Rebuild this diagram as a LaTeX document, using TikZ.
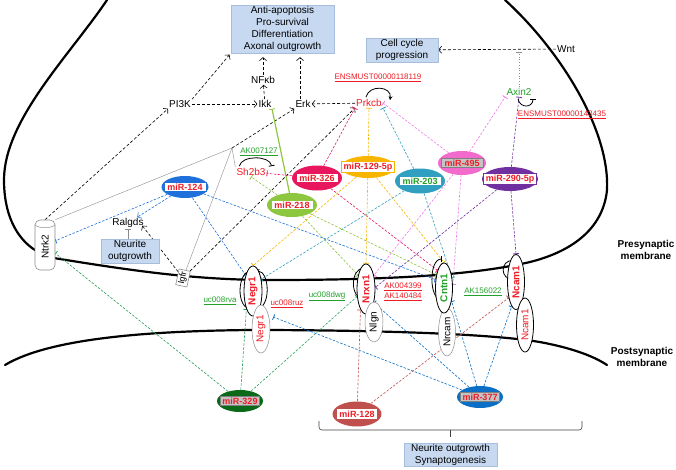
\documentclass[tikz,border=0pt]{standalone}
\usepackage{fontspec}
\setmainfont{Liberation Sans}
\usetikzlibrary{shapes.geometric,arrows.meta,calc}
\pgfdeclarelayer{bg}\pgfdeclarelayer{mid}\pgfsetlayers{bg,mid,main}
\definecolor{boxfill}{HTML}{C6D9F1}
\definecolor{boxedge}{HTML}{A6BEDC}
\definecolor{tred}{HTML}{EE1C25}
\definecolor{tgreen}{HTML}{22A02A}
\definecolor{c124}{HTML}{1F70DA}
\definecolor{c326}{HTML}{E8175D}
\definecolor{c218}{HTML}{8DC63F}
\definecolor{c129}{HTML}{F7B500}
\definecolor{c203}{HTML}{31A0C0}
\definecolor{c495}{HTML}{F26ACB}
\definecolor{l495}{HTML}{F07AE6}
\definecolor{c290}{HTML}{7030A0}
\definecolor{c329}{HTML}{0A6A1A}
\definecolor{l329}{HTML}{2AA05A}
\definecolor{c128}{HTML}{C0504D}
\definecolor{c377}{HTML}{0B6FC6}
\definecolor{labgray}{HTML}{C4C4C4}
\definecolor{pgray}{HTML}{8C8C8C}
\begin{document}
\begin{tikzpicture}[x=1pt,y=-1pt,
  lbl/.style={inner sep=1pt,font=\fontsize{10}{12}\selectfont},
  ultxt/.style={inner sep=0.5pt,font=\fontsize{8}{9.5}\selectfont},
  pbox/.style={draw=boxedge,fill=boxfill,align=center,inner sep=1pt,font=\fontsize{10}{12}\selectfont},
  mell/.style={ellipse,inner sep=0pt},
  mlab/.style={draw,fill=white,line width=0.8pt,inner xsep=3.5pt,inner ysep=1pt,text=tred,font=\bfseries\fontsize{9}{10}\selectfont},
  glab/.style={mlab,fill=labgray,draw=gray},
  prot/.style={ellipse,draw,line width=0.8pt,fill=white,inner sep=0pt,minimum width=18pt,minimum height=50pt},
  ptxt/.style={rotate=90,inner sep=0pt,font=\bfseries\fontsize{10}{12}\selectfont},
  ptxtn/.style={rotate=90,inner sep=0pt,font=\fontsize{10}{12}\selectfont},
  memb/.style={line width=2.2pt,line cap=round},
  bdash/.style={dash pattern=on 3pt off 2pt,line width=0.6pt},
  cdash/.style={dash pattern=on 2.5pt off 1.5pt,line width=0.6pt},
  arr/.style={-{Straight Barb[length=3pt,width=7pt]}},
  inh/.style={-{Bar[width=6pt,line width=0.8pt]}},
  loopl/.style={line width=0.8pt},
]
\useasboundingbox (0,0) rectangle (676,469);
% membranes
\begin{pgfonlayer}{bg}
\draw[memb] (107,0) .. controls (70,55) and (4,120) .. (4,180) .. controls (4,228) and (28,255) .. (60,259) .. controls (140,272) and (200,280) .. (270,280) .. controls (380,280) and (470,276) .. (530,262) .. controls (570,252) and (603,230) .. (607,190) .. controls (610,130) and (560,50) .. (505,0);
\draw[memb] (5,365) .. controls (50,338) and (150,331) .. (250,330) .. controls (380,330) and (500,334) .. (545,343) .. controls (575,349) and (595,357) .. (607,365);
\end{pgfonlayer}
% boxes
\node[pbox,minimum width=103pt,minimum height=48pt] (tb) at (282.5,29) {Anti-apoptosis\\Pro-survival\\Differentiation\\Axonal outgrowth};
\node[pbox,minimum width=72pt,minimum height=24pt] (cc) at (402,50) {Cell cycle\\progression};
\node[pbox,minimum width=58pt,minimum height=24pt] (no) at (130,251) {Neurite\\outgrowth};
\node[pbox,minimum width=93pt,minimum height=23pt] (ns) at (450.5,454.5) {Neurite outgrowth\\Synaptogenesis};
% plain labels
\node[lbl] (nfkb) at (263,80) {NFκb};
\node[lbl] (pi3k) at (180,104) {PI3K};
\node[lbl] (ikk) at (265,104) {Ikk};
\node[lbl] (erk) at (303,104) {Erk};
\node[lbl,text=tred] (prkcb) at (369,103) {Prkcb};
\node[lbl] (wnt) at (566,49) {Wnt};
\node[lbl,text=tgreen] (axin2) at (519,92) {Axin2};
\node[lbl,text=tred] (sh2b3) at (251,172) {Sh2b3};
\node[lbl] (ralgds) at (128,223) {Ralgds};
\node[ultxt,text=tred] (ens1) at (378,78) {\underline{ENSMUST00000118119}};
\node[ultxt,text=tred] (ens2) at (562,115) {\underline{ENSMUST00000143435}};
\node[ultxt,text=tgreen] (ak7) at (259,152) {\underline{AK007127}};
\node[ultxt,text=tgreen] (rva) at (220,301) {\underline{uc008rva}};
\node[ultxt,text=tred] (ruz) at (287,304) {\underline{uc008ruz}};
\node[ultxt,text=tgreen] (dwg) at (327,296) {\underline{uc008dwg}};
\node[ultxt,text=tred] (ak43) at (403,287) {\underline{AK004399}};
\node[ultxt,text=tred] (ak14) at (403,297) {\underline{AK140484}};
\node[ultxt,text=tgreen] (ak15) at (483,292) {\underline{AK156022}};
\node[font=\bfseries\fontsize{10}{12}\selectfont,align=center] (pre) at (646,250) {Presynaptic\\membrane};
\node[font=\bfseries\fontsize{10}{12}\selectfont,align=center] (post) at (642,357) {Postsynaptic\\membrane};
% receptors
\node[draw=pgray,fill=white,rounded corners=5pt,minimum width=20pt,minimum height=50pt,line width=0.6pt] (ntrk2) at (45,245) {};
\node[ptxtn] (ntrk2t) at (45,247) {Ntrk2};
\draw[pgray,line width=0.5pt] ($(ntrk2.north west)+(0,5)$) .. controls +(4,4) and +(-4,4) .. ($(ntrk2.north east)+(0,5)$);
\node[draw=pgray,fill=white,rotate=78,inner sep=1.5pt,line width=0.6pt,font=\fontsize{9}{10}\selectfont] (igfr) at (183,278) {Igfr};
% proteins
\node[prot] (negr1a) at (253,291) {};
\node[ptxt,text=tred] (negr1at) at (negr1a) {Negr1};
\node[prot,draw=pgray,line width=0.5pt,minimum height=48pt] (negr1b) at (261,329) {};
\node[ptxtn,text=tred] (negr1bt) at (negr1b) {Negr1};
\node[prot] (nrxn1) at (366,289) {};
\node[ptxt,text=tred] (nrxn1t) at (nrxn1) {Nrxn1};
\node[prot,draw=pgray,line width=0.5pt,minimum height=40pt] (nlgn) at (374,322) {};
\node[ptxtn] (nlgnt) at (nlgn) {Nlgn};
\node[prot,draw=pgray,line width=0.5pt,minimum height=48pt,minimum width=17pt] (nrcam) at (447,332) {};
\node[ptxtn] (nrcamt) at (nrcam) {Nrcam};
\node[prot,minimum width=17pt] (cntn1) at (444,288) {};
\node[ptxt,text=tgreen] (cntn1t) at (cntn1) {Cntn1};
\node[prot,minimum width=17pt,minimum height=55pt] (ncam1a) at (516,282) {};
\node[ptxt,text=tred] (ncam1at) at (ncam1a) {Ncam1};
\node[prot,minimum width=17pt,minimum height=54pt] (ncam1b) at (525,325) {};
\node[ptxtn,text=tred] (ncam1bt) at (ncam1b) {Ncam1};
% miRNAs
\node[mell,fill=c124,minimum width=47pt,minimum height=22pt] (m124) at (185,187) {};
\node[mlab,draw=c124] (m124t) at (m124) {miR-124};
\node[mell,fill=c326,minimum width=50pt,minimum height=25pt] (m326) at (317,178) {};
\node[mlab,draw=c326] (m326t) at (m326) {miR-326};
\node[mell,fill=c218,minimum width=50pt,minimum height=24pt] (m218) at (292,205) {};
\node[mlab,draw=c218] (m218t) at (m218) {miR-218};
\node[mell,fill=c129,minimum width=54pt,minimum height=22pt] (m129) at (368,167) {};
\node[mlab,draw=c129,inner xsep=2pt] (m129t) at (m129) {miR-129-5p};
\node[mell,fill=c203,minimum width=50pt,minimum height=25pt] (m203) at (420,181) {};
\node[mlab,draw=c203,text=tgreen] (m203t) at (m203) {miR-203};
\node[mell,fill=c495,minimum width=48pt,minimum height=24pt] (m495) at (462,163) {};
\node[glab] (m495t) at (m495) {miR-495};
\node[mell,fill=c290,minimum width=56pt,minimum height=24pt] (m290) at (510,179) {};
\node[mlab,draw=c290,inner xsep=2pt] (m290t) at (m290) {miR-290-5p};
\node[mell,fill=c329,minimum width=46pt,minimum height=22pt] (m329) at (240,401) {};
\node[glab,inner xsep=2pt] (m329t) at (m329) {miR-329};
\node[mell,fill=c128,minimum width=49pt,minimum height=25pt] (m128) at (357,414) {};
\node[mlab,draw=white,inner xsep=2pt] (m128t) at (m128) {miR-128};
\node[mell,fill=c377,minimum width=46pt,minimum height=22pt] (m377) at (480,397) {};
\node[glab,inner xsep=2pt] (m377t) at (m377) {miR-377};
% connectors
\coordinate (J) at (232,148);
\coordinate (wa) at (axin2 |- wnt);
\coordinate (bL) at (319,421);
\coordinate (bM) at (450,430);
\coordinate (bR) at (582,421);
\begin{pgfonlayer}{mid}
\draw[bdash,arr,shorten >=2pt] (pi3k.north east) -- (tb.south west);
\draw[bdash,arr] (ntrk2.north) -- (pi3k.south west);
\draw[bdash,arr] (pi3k) -- (ikk);
\draw[bdash,arr] (ikk) -- (nfkb);
\draw[bdash,arr,shorten >=4pt] (nfkb) -- (nfkb |- tb.south);
\draw[bdash,arr,shorten >=4pt] ($(erk.north)+(-3,0)$) -- ($(erk.north |- tb.south)+(-3,0)$);
\draw[bdash,arr] (prkcb) -- (erk);
\draw[bdash,arr] (igfr) -- (prkcb.south west);
\draw[bdash,arr,shorten >=-4pt] (igfr) -- (ralgds.south east);
\draw[bdash,arr] (J) -- (erk.south west);
\draw[bdash,arr] (wnt) -- (cc);
\draw[pgray,dotted,line width=0.7pt,inh,shorten >=3pt] (axin2) -- (wa);
\draw[pgray,line width=0.4pt] (ntrk2.north east) -- (J) -- (igfr);
\draw[pgray,line width=0.4pt] (J) -- (sh2b3.north west);
\draw[pgray,line width=0.5pt,inh] (no.north -| ralgds) -- (ralgds.south);
\draw[c218,line width=1.2pt,inh] (m218) -- ($(ikk.south)+(7,0)$);
% miR targets
\draw[c326,cdash,inh] (m326) -- (sh2b3);
\draw[c326,cdash,inh] (m326) -- (prkcb.south west);
\draw[c326,cdash,inh] (m326) -- (cntn1.110);
\draw[c129,cdash,inh] (m129) -- (prkcb.south);
\draw[c129,cdash,inh] (m129) -- (negr1a.north);
\draw[c129,cdash,inh] (m129) -- (nrxn1.north);
\draw[c129,cdash,inh] (m129) -- (cntn1.north);
\draw[c203,cdash,inh] (m203) -- (prkcb.south east);
\draw[c203,cdash,inh] (m203) -- (negr1a.55);
\draw[c203,cdash,inh] (m203) -- (cntn1.50);
\draw[l495,cdash,inh] (m495) -- (prkcb.east);
\draw[l495,cdash,inh] (m495) -- (axin2.south west);
\draw[l495,cdash,inh] (m495) -- (nrxn1.60);
\draw[l495,cdash,inh] (m495) -- (cntn1.20);
\draw[c290,cdash,inh] (m290) -- (axin2.south);
\draw[c290,cdash,inh] (m290) -- (ncam1a.north);
\draw[c290,cdash,inh] (m290) -- (nrxn1.10);
\draw[c218,cdash,inh] (m218) -- (sh2b3.south);
\draw[c218,cdash,inh] (m218) -- (nrxn1.120);
\draw[c218,cdash,inh] (m218) -- (cntn1.120);
\draw[c124,cdash,inh] (m124) -- (ntrk2);
\draw[c124,cdash,arr] (m124) -- (ralgds);
\draw[c124,cdash,inh] (m124) -- (negr1a.115);
\draw[c124,cdash,inh] (m124) -- (cntn1.135);
\draw[l329,cdash,inh] (m329) -- (ntrk2);
\draw[l329,cdash,inh] (m329) -- (negr1a.-110);
\draw[l329,cdash,inh] (m329) -- (nrxn1.-140);
\draw[c128,cdash,inh] (m128) -- (nrxn1.-105);
\draw[c128,cdash,inh] (m128) -- (ncam1a.-115);
\draw[c377,cdash,inh] (m377) -- ($(negr1b.east)+(3,-12)$);
\draw[c377,cdash,inh] (m377) -- (nrxn1.-60);
\draw[c377,cdash,inh] (m377) -- (cntn1.-60);
\draw[c377,cdash,inh] (m377) -- (ncam1a.-100);
% self loops
\draw[loopl,-{Stealth[length=4pt,width=4pt]}] ($(prkcb.north)+(-3,-1)$) .. controls +(3,-13) and +(2,-14) .. ($(prkcb.north east)+(7,2)$);
\draw[loopl,inh] ($(axin2.south)+(-1,2)$) .. controls +(2,10) and +(0,9) .. ($(axin2.south)+(14,2)$);
\draw[loopl,inh] ($(sh2b3.north west)+(4,-1)$) .. controls +(2,-11) and +(-2,-11) .. ($(sh2b3.north east)+(5,-1)$);
\draw[loopl,inh] ($(negr1a.south west)+(5,0)$) .. controls +(-16,0) and +(-14,0) .. ($(negr1a.north west)+(5,-2)$);
\draw[loopl,-{Stealth[length=4pt,width=4pt]}] ($(negr1a.south east)+(-4,0)$) .. controls +(16,0) and +(14,0) .. ($(negr1a.north east)+(-4,-2)$);
\draw[loopl,inh] ($(nrxn1.south west)+(5,-8)$) .. controls +(-15,0) and +(-14,0) .. ($(nrxn1.north west)+(5,-3)$);
\draw[loopl,inh] ($(cntn1.south west)+(4,-6)$) .. controls +(-13,0) and +(-13,0) .. ($(cntn1.north west)+(4,-11)$);
\draw[loopl,inh] ($(ncam1a.south west)+(4,-22)$) .. controls +(-14,0) and +(-14,0) .. ($(ncam1a.north west)+(4,-2)$);
% brace
\draw[line width=0.6pt,rounded corners=3pt,black!75] (bL) |- (bM) -| (bR);
\draw[line width=0.6pt,black!75] (bM) -- ++(0,7);
\end{pgfonlayer}
\end{tikzpicture}
\end{document}
